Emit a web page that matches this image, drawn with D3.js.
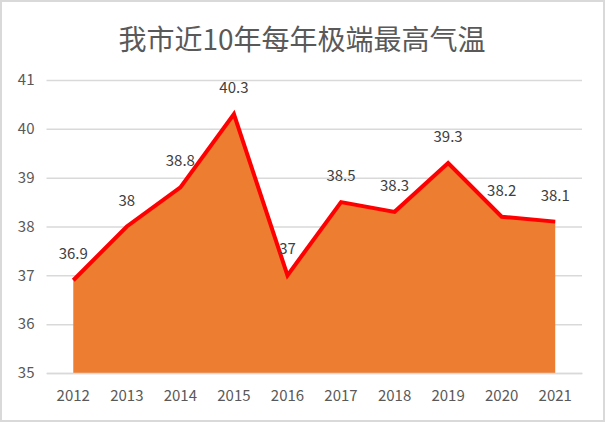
<!DOCTYPE html>
<html><head><meta charset="utf-8">
<script src="https://cdn.jsdelivr.net/npm/d3@7"></script>
<style>
html,body{margin:0;padding:0;background:#fff;}
svg{display:block;}
</style></head>
<body>
<svg id="chart" width="605" height="422"></svg>
<script>
(function(){
const title = "我市近10年每年极端最高气温";
const years = ["2012","2013","2014","2015","2016","2017","2018","2019","2020","2021"];
const temps = [36.9, 38, 38.8, 40.3, 37, 38.5, 38.3, 39.3, 38.2, 38.1];
const yTicks = [35, 36, 37, 38, 39, 40, 41];

const W = 605, H = 422;
const svg = d3.select("#chart");
const font = "'Microsoft YaHei','Noto Sans CJK SC','Noto Sans',sans-serif";

svg.append("rect").attr("x",1).attr("y",1).attr("width",W-2).attr("height",H-2)
  .attr("fill","#fff").attr("stroke","#d9d9d9").attr("stroke-width",2);

const mLeft = 46.5, mRight = 582, mTop = 80, mBottom = 373;
const x = d3.scaleBand().domain(years).range([mLeft, mRight]);
const y = d3.scaleLinear().domain([35, 41]).range([mBottom, mTop]);
const cx = d => x(d) + x.bandwidth()/2;

svg.append("text").attr("x", 302).attr("y", 50).attr("text-anchor","middle")
  .attr("font-family", font).attr("font-size", 28).attr("fill","#595959").text(title);

const yAxis = d3.axisLeft(y).tickValues(yTicks).tickSize(-(mRight-mLeft)).tickPadding(12).tickFormat(d3.format("d"));
const gy = svg.append("g").attr("transform",`translate(${mLeft},0)`).call(yAxis);
gy.select(".domain").remove();
gy.selectAll(".tick line").attr("stroke","#d9d9d9").attr("stroke-width",1.5);
gy.selectAll(".tick text").attr("font-family",font).attr("font-size",15).attr("fill","#595959");

const area = d3.area().x((d,i)=>cx(years[i])).y0(y(35)).y1(d=>y(d));
svg.append("path").datum(temps).attr("d", area).attr("fill","#ED7D31");
const line = d3.line().x((d,i)=>cx(years[i])).y(d=>y(d));
svg.append("path").datum(temps).attr("d", line).attr("fill","none")
  .attr("stroke","#FF0000").attr("stroke-width",4).attr("stroke-linejoin","miter");

const xAxis = d3.axisBottom(x).tickSize(0).tickPadding(17);
const gx = svg.append("g").attr("transform",`translate(0,${mBottom})`).call(xAxis);
gx.select(".domain").attr("stroke","#d9d9d9").attr("stroke-width",1.5);
gx.selectAll(".tick text").attr("font-family",font).attr("font-size",15).attr("fill","#595959");

svg.append("g").selectAll("text").data(temps).join("text")
  .attr("x",(d,i)=>cx(years[i])).attr("y",d=>y(d)-21)
  .attr("text-anchor","middle").attr("font-family",font).attr("font-size",15).attr("fill","#404040")
  .text(d=>d);
})();
</script>
</body></html>
